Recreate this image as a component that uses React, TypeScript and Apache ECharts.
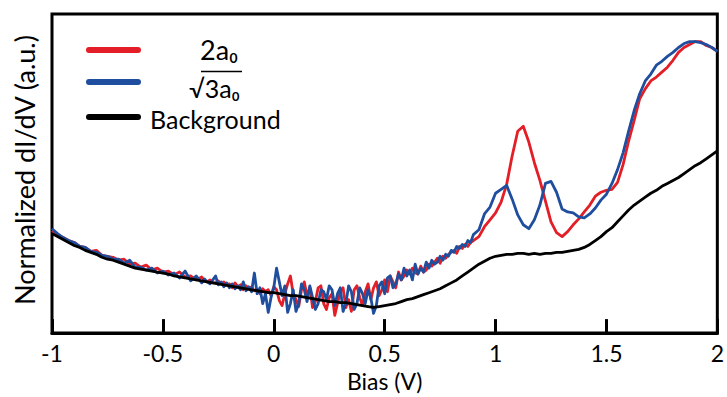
import React, { useEffect, useRef } from "react";
import * as echarts from "echarts";

// Bias (V) of the two STS spectra (denser sampling where the signal is noisy)
const biasSpectra = [
  -1, -0.975, -0.95, -0.925, -0.9, -0.875, -0.85, -0.825, -0.8, -0.775,
  -0.75, -0.725, -0.7, -0.675, -0.65, -0.625, -0.6, -0.575, -0.55, -0.525,
  -0.5, -0.475, -0.45, -0.425, -0.4, -0.375, -0.35, -0.325,
  -0.3125, -0.3, -0.2875, -0.275, -0.2625, -0.25, -0.2375, -0.225,
  -0.2125, -0.2, -0.1875, -0.175, -0.1625, -0.15, -0.1375, -0.125,
  -0.1125, -0.1, -0.0875, -0.075, -0.0625, -0.05, -0.0375, -0.025,
  -0.0125, 0, 0.0125, 0.025, 0.0375, 0.05, 0.0625, 0.075,
  0.0875, 0.1, 0.1125, 0.125, 0.1375, 0.15, 0.1625, 0.175,
  0.1875, 0.2, 0.2125, 0.225, 0.2375, 0.25, 0.2625, 0.275,
  0.2875, 0.3, 0.3125, 0.325, 0.3375, 0.35, 0.3625, 0.375,
  0.3875, 0.4, 0.4125, 0.425, 0.4375, 0.45, 0.4625, 0.475,
  0.4875, 0.5, 0.5125, 0.525, 0.5375, 0.55, 0.5625, 0.575,
  0.5875, 0.6, 0.6125, 0.625, 0.6375, 0.65, 0.6625, 0.675,
  0.6875, 0.7, 0.7125, 0.725, 0.7375, 0.75, 0.7625, 0.775,
  0.7875, 0.8, 0.8125, 0.825, 0.8375, 0.85, 0.8625, 0.875,
  0.8875, 0.9,
  0.925, 0.95, 0.975,
  1, 1.025, 1.05, 1.075, 1.1, 1.125, 1.15, 1.175, 1.2, 1.225,
  1.25, 1.275, 1.3, 1.325, 1.35, 1.375, 1.4, 1.425, 1.45, 1.475,
  1.5, 1.525, 1.55, 1.575, 1.6, 1.625, 1.65, 1.675, 1.7, 1.725,
  1.75, 1.775, 1.8, 1.825, 1.85, 1.875, 1.9, 1.925, 1.95, 1.975,
  2,
];

// Normalized dI/dV (a.u.), 2a0 region
const red2a0 = [
  104, 100, 97, 94, 92, 88, 87, 83, 84, 79,
  78, 77, 74, 75, 70, 71, 67, 69, 64, 66,
  62, 63, 59, 62, 57, 58, 54, 57,
  53, 52, 54, 51, 51, 53, 50, 52,
  49, 50, 46, 51, 47, 49, 44, 48,
  45, 47, 43, 44, 40, 45, 42, 44,
  38, 47, 44, 33, 28, 40, 50, 58,
  40, 34, 27, 44, 52, 38, 46, 26,
  32, 46, 48, 30, 24, 36, 40, 18,
  30, 42, 46, 26, 34, 22, 44, 48,
  36, 28, 42, 50, 34, 46, 52, 38,
  44, 54, 42, 58, 52, 46, 62, 54,
  58, 64, 60, 66, 61, 60, 68, 62,
  64, 70, 68, 72, 76, 71, 78, 76,
  80, 82, 84, 81, 88, 86, 90, 88,
  92, 94,
  98, 108, 115,
  122, 133, 151, 180, 205, 210, 194, 173, 155, 134,
  113, 102, 98, 103, 110, 116, 123, 130, 139, 143,
  145, 146, 153, 171, 195, 216, 238, 248, 256, 260,
  265, 270, 277, 285, 290, 293, 296, 296, 292, 290,
  286,
];

// Normalized dI/dV (a.u.), √3a0 region
const blueR3a0 = [
  106, 101, 97, 94, 92, 88, 87, 83, 82, 79,
  78, 75, 75, 71, 74, 67, 67, 64, 66, 61,
  63, 59, 61, 56, 63, 53, 58, 51,
  55, 52, 50, 54, 58, 49, 52, 47,
  51, 46, 50, 45, 48, 44, 52, 43,
  47, 42, 61, 40, 46, 30, 40, 21,
  36, 46, 66, 52, 38, 48, 21, 30,
  44, 22, 30, 50, 44, 32, 48, 36,
  24, 30, 44, 42, 34, 48, 44, 28,
  40, 46, 22, 30, 48, 42, 24, 30,
  46, 40, 30, 44, 36, 20, 28, 48,
  52, 40, 56, 58, 46, 50, 60, 54,
  66, 58, 64, 54, 70, 60, 66, 62,
  72, 66, 74, 70, 72, 78, 74, 80,
  78, 84, 82, 88, 86, 90, 88, 94,
  92, 100,
  105, 121, 128,
  142, 146, 150, 136, 120, 110, 106, 115, 130, 152,
  154, 143, 126, 123, 122, 118, 117, 121, 127, 135,
  141, 152, 166, 183, 205, 226, 243, 256, 263, 272,
  276, 281, 285, 290, 294, 296, 296, 295, 293, 290,
  286,
];

// Bias (V) of the background spectrum
const biasBackground = [
  -1, -0.975, -0.95, -0.925, -0.9, -0.875, -0.85, -0.825, -0.8, -0.775,
  -0.75, -0.725, -0.7, -0.675, -0.65, -0.625, -0.6, -0.575, -0.55, -0.525,
  -0.5, -0.475, -0.45, -0.425, -0.4, -0.375, -0.35, -0.325, -0.3, -0.275,
  -0.25, -0.225, -0.2, -0.175, -0.15, -0.125, -0.1, -0.075, -0.05, -0.025,
  0, 0.025, 0.05, 0.075, 0.1, 0.125, 0.15, 0.175, 0.2, 0.225,
  0.25, 0.275, 0.3, 0.325, 0.35, 0.375, 0.4, 0.425, 0.45, 0.475,
  0.5, 0.525, 0.55, 0.575, 0.6, 0.625, 0.65, 0.675, 0.7, 0.725,
  0.75, 0.775, 0.8, 0.825, 0.85, 0.875, 0.9, 0.925, 0.95, 0.975,
  1, 1.025, 1.05, 1.075, 1.1, 1.125, 1.15, 1.175, 1.2, 1.225,
  1.25, 1.275, 1.3, 1.325, 1.35, 1.375, 1.4, 1.425, 1.45, 1.475,
  1.5, 1.525, 1.55, 1.575, 1.6, 1.625, 1.65, 1.675, 1.7, 1.725,
  1.75, 1.775, 1.8, 1.825, 1.85, 1.875, 1.9, 1.925, 1.95, 1.975,
  2,
];

// Normalized dI/dV (a.u.), background
const background = [
  101, 98, 95, 92, 89, 87, 84, 82, 80, 77,
  75, 74, 72, 70, 68, 66, 65, 64, 63, 62,
  61, 60, 58, 57, 56, 55, 54, 53, 52, 51,
  50, 49, 48, 47, 46, 45, 44, 43, 42, 41,
  41, 40, 39, 38, 38, 37, 36, 35, 34, 33,
  32, 32, 31, 31, 30, 29, 28, 27, 26, 27,
  28, 29, 30, 32, 34, 35, 37, 39, 41, 43,
  45, 48, 51, 54, 58, 62, 66, 70, 73, 76,
  78, 79, 80, 80, 81, 81, 80, 81, 80, 81,
  81, 82, 82, 83, 84, 85, 87, 90, 94, 98,
  103, 107, 113, 119, 125, 130, 134, 138, 142, 145,
  149, 152, 155, 158, 162, 166, 170, 173, 177, 181,
  185,
];

const RED = "#e31e26";
const BLUE = "#1f4e9f";
const BLACK = "#000000";
const FONT = "Lato, 'DejaVu Sans', sans-serif";

export default function App() {
  const ref = useRef<HTMLDivElement>(null);

  useEffect(() => {
    document.body.style.margin = "0";
    if (!ref.current) return;
    const chart = echarts.init(ref.current, null, { renderer: "svg" });
    const zip = (xs: number[], ys: number[]) => xs.map((b, i) => [b, ys[i]]);
    const lineSeries = (name: string, xs: number[], ys: number[], color: string) => ({
      name,
      type: "line",
      data: zip(xs, ys),
      showSymbol: false,
      symbol: "none",
      lineStyle: { color, width: 2.8, join: "round" },
      itemStyle: { color },
    });
    const txt = (text: string, x: number, y: number, fontSize: number) => ({
      type: "text",
      x,
      y,
      style: { text, fontSize, fontFamily: FONT, fill: BLACK, verticalAlign: "middle" },
    });

    chart.setOption({
      animation: false,
      grid: {
        left: 52,
        right: 6,
        top: 14,
        bottom: 59,
        show: true,
        borderColor: BLACK,
        borderWidth: 3,
      },
      xAxis: {
        type: "value",
        min: -1,
        max: 2,
        interval: 0.5,
        name: "Bias (V)",
        nameLocation: "middle",
        nameGap: 24,
        nameTextStyle: { fontSize: 23, fontFamily: FONT, color: BLACK },
        axisLine: { show: true, lineStyle: { color: BLACK, width: 3 } },
        axisTick: { show: true, inside: true, length: 14, lineStyle: { color: BLACK, width: 3 } },
        axisLabel: { fontSize: 23, fontFamily: FONT, color: BLACK, margin: 8 },
        splitLine: { show: false },
      },
      yAxis: {
        type: "value",
        min: 0,
        max: 324,
        axisLine: { show: false },
        axisTick: { show: false },
        axisLabel: { show: false },
        splitLine: { show: false },
      },
      series: [
        lineSeries("2a₀", biasSpectra, red2a0, RED),
        lineSeries("√3a₀", biasSpectra, blueR3a0, BLUE),
        lineSeries("Background", biasBackground, background, BLACK),
      ],
      graphic: [
        {
          type: "text",
          x: 24,
          y: 170,
          rotation: Math.PI / 2,
          style: {
            text: "Normalized dI/dV (a.u.)",
            fontSize: 27,
            fontFamily: FONT,
            fill: BLACK,
            align: "center",
            verticalAlign: "middle",
          },
        },
        { type: "line", shape: { x1: 89, y1: 50, x2: 138, y2: 50 }, style: { stroke: RED, lineWidth: 6, lineCap: "round" } },
        { type: "line", shape: { x1: 89, y1: 82, x2: 138, y2: 82 }, style: { stroke: BLUE, lineWidth: 6, lineCap: "round" } },
        { type: "line", shape: { x1: 89, y1: 117, x2: 138, y2: 117 }, style: { stroke: BLACK, lineWidth: 6, lineCap: "round" } },
        txt("2a₀", 200, 49, 27),
        txt("√3a₀", 189, 87.5, 25),
        { type: "line", shape: { x1: 201, y1: 71.5, x2: 242, y2: 71.5 }, style: { stroke: BLACK, lineWidth: 1.5 } },
        txt("Background", 150, 118.5, 25),
      ],
    });
    return () => chart.dispose();
  }, []);

  return <div ref={ref} style={{ width: 727, height: 397 }} />;
}
